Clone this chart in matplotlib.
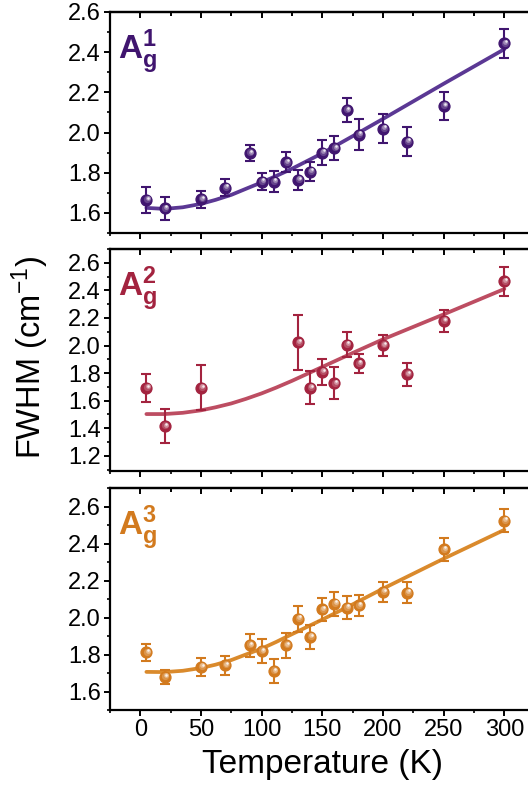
import numpy as np
import matplotlib
matplotlib.use("Agg")
import matplotlib.pyplot as plt
import matplotlib.transforms as mtransforms
from matplotlib.ticker import MultipleLocator

plt.rcParams['font.family'] = ['Liberation Sans', 'DejaVu Sans']
plt.rcParams['mathtext.fontset'] = 'custom'
plt.rcParams['mathtext.rm'] = 'Liberation Sans'
plt.rcParams['mathtext.bf'] = 'Liberation Sans:bold'
plt.rcParams['mathtext.default'] = 'regular'

# data
T_a = [5, 20, 50, 70, 90, 100, 110, 120, 130, 140, 150, 160, 170, 180, 200, 220, 250, 300]
T_b = [5, 20, 50, 130, 140, 150, 160, 170, 180, 200, 220, 250, 300]

fwhm1 = [1.665, 1.623, 1.668, 1.726, 1.897, 1.756, 1.756, 1.852, 1.764, 1.806,
         1.900, 1.922, 2.112, 1.990, 2.020, 1.955, 2.132, 2.444]
err1 = [0.066, 0.058, 0.043, 0.044, 0.041, 0.041, 0.052, 0.050, 0.051, 0.046,
        0.062, 0.059, 0.061, 0.075, 0.071, 0.071, 0.072, 0.073]

fwhm2 = [1.693, 1.416, 1.693, 2.022, 1.693, 1.809, 1.725, 2.007, 1.870, 2.002,
         1.792, 2.178, 2.465]
err2 = [0.102, 0.123, 0.164, 0.200, 0.120, 0.096, 0.116, 0.090, 0.070, 0.075,
        0.084, 0.082, 0.107]

fwhm3 = [1.811, 1.679, 1.733, 1.742, 1.850, 1.818, 1.710, 1.850, 1.994, 1.895,
         2.044, 2.075, 2.054, 2.066, 2.138, 2.134, 2.368, 2.524]
err3 = [0.044, 0.038, 0.049, 0.051, 0.063, 0.066, 0.063, 0.067, 0.070, 0.067,
        0.063, 0.065, 0.060, 0.058, 0.056, 0.058, 0.063, 0.063]

# fitted curves
fit_T = [5, 20, 35, 50, 62, 75, 87, 100, 112, 125, 150, 175, 200, 250, 300]
fit1 = [1.625, 1.620, 1.628, 1.645, 1.665, 1.690, 1.720, 1.752, 1.784, 1.820,
        1.897, 1.982, 2.068, 2.243, 2.415]
fit2 = [1.503, 1.503, 1.512, 1.530, 1.552, 1.580, 1.613, 1.653, 1.695, 1.744,
        1.845, 1.946, 2.045, 2.226, 2.410]
fit3 = [1.706, 1.705, 1.712, 1.727, 1.745, 1.770, 1.800, 1.832, 1.868, 1.910,
        1.989, 2.071, 2.156, 2.318, 2.474]

labels = ['1', '2', '3']
colors = ['#40156f', '#a3233f', '#d27a1e']
line_colors = ['#5b3894', '#bd4d62', '#da8a2c']
ylims = [(1.5, 2.6), (1.09, 2.7), (1.5, 2.7)]
yticks = [np.arange(1.6, 2.61, 0.2), np.arange(1.2, 2.61, 0.2), np.arange(1.6, 2.61, 0.2)]

panels = [(T_a, fwhm1, err1, fit1), (T_b, fwhm2, err2, fit2), (T_a, fwhm3, err3, fit3)]

W, H = 528, 799
fig = plt.figure(figsize=(W / 100, H / 100), dpi=100)
boxes = [(12, 233), (249, 471), (488, 710)]
left_px = 110
width_px = 424.7


def lighten(c, f):
    rgb = np.array(matplotlib.colors.to_rgb(c))
    return tuple(rgb + (1 - rgb) * f)


axes = []
for i, (top, bot) in enumerate(boxes):
    ax = fig.add_axes([left_px / W, (H - bot) / H, width_px / W, (bot - top) / H])
    axes.append(ax)
    T, y, e, fit = panels[i]
    c = colors[i]

    ax.plot(fit_T, fit, color=line_colors[i], lw=2.7, zorder=2,
            solid_capstyle='round', solid_joinstyle='round')
    ax.errorbar(T, y, yerr=e, fmt='none', ecolor=c, elinewidth=1.5, capsize=3.8,
                capthick=1.5, zorder=3)
    ax.plot(T, y, 'o', ms=7.8, color=c, mec=c, zorder=4)
    # glossy highlight on the sphere markers
    for k, (sz, f) in enumerate([(5.2, 0.2), (3.4, 0.5), (1.8, 0.9)]):
        off = mtransforms.ScaledTranslation(0.4 / 72 * (k + 1), 0.55 / 72 * (k + 1),
                                            fig.dpi_scale_trans)
        ax.plot(T, y, 'o', ms=sz, color=lighten(c, f), mew=0, zorder=5 + k,
                transform=ax.transData + off)

    ax.set_xlim(-25, 325)
    ax.set_ylim(*ylims[i])
    ax.set_yticks(yticks[i])
    ax.set_yticklabels([f'{v:.1f}' for v in yticks[i]])
    ax.yaxis.set_minor_locator(MultipleLocator(0.1))
    ax.set_xticks(np.arange(0, 301, 50))
    ax.xaxis.set_minor_locator(MultipleLocator(25))
    ax.tick_params(axis='both', which='major', direction='out', length=4.5, width=1.4,
                   labelsize=17, pad=2)
    ax.tick_params(axis='both', which='minor', direction='out', length=2.5, width=1.2)
    if i < 2:
        ax.tick_params(axis='x', labelbottom=False)
    for s in ax.spines.values():
        s.set_linewidth(1.6)

    sec = ax.secondary_xaxis('top')
    sec.set_xticks(np.arange(0, 301, 50))
    sec.xaxis.set_minor_locator(MultipleLocator(25))
    sec.tick_params(axis='x', which='both', direction='in', labeltop=False, width=1.4)
    sec.tick_params(axis='x', which='major', length=4)
    sec.tick_params(axis='x', which='minor', length=3)
    sec.spines['top'].set_linewidth(1.6)

    ax.text(0.02, 0.93, r'$\mathbf{A}_{\mathbf{g}}^{\mathbf{%s}}$' % labels[i],
            transform=ax.transAxes, color=c, fontsize=24, ha='left', va='top')

axes[2].set_xlabel('Temperature (K)', fontsize=24, labelpad=6)
fig.text(30 / W, 1 - 357 / H, r'FWHM (cm$^{-1}$)', rotation=90, fontsize=23.5,
         ha='center', va='center')

fig.savefig('out.png', dpi=100)
